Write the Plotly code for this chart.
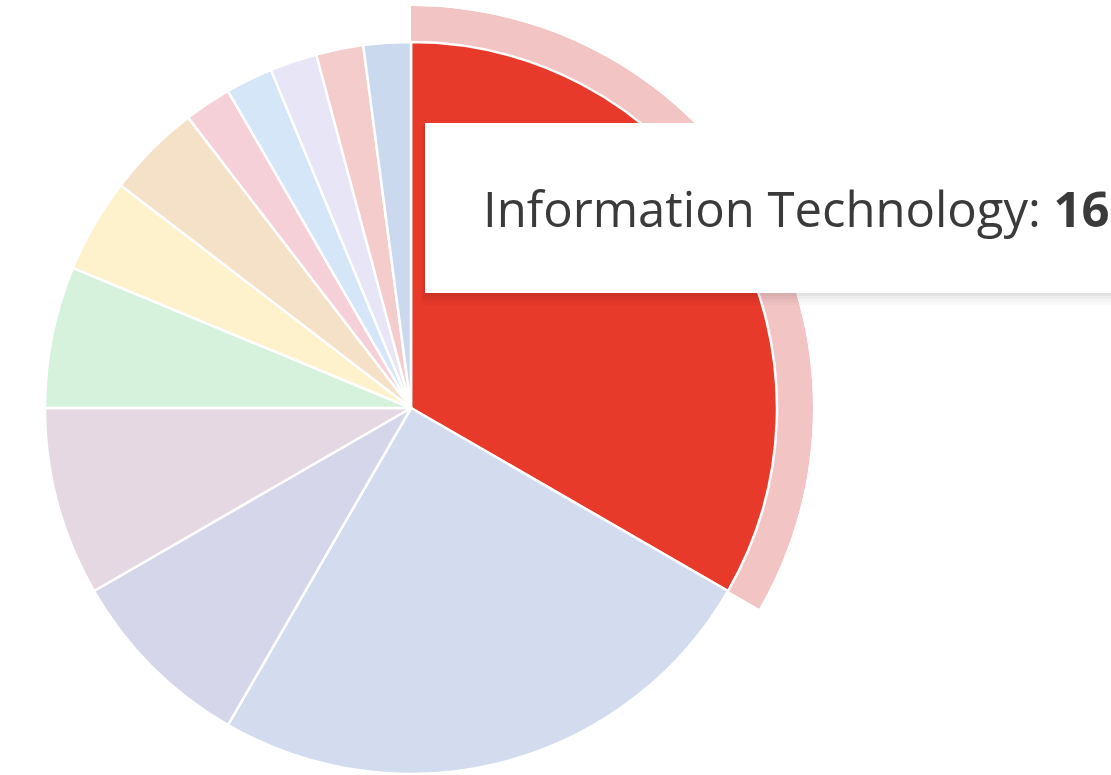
import math
import plotly.graph_objects as go

# Sector weights, drawn clockwise from 12 o'clock
sectors = [
    "Information Technology", "Financials", "Health Care", "Consumer Discretionary",
    "Industrials", "Communication Services", "Consumer Staples", "Energy",
    "Materials", "Utilities", "Real Estate", "Other",
]
counts = [16, 12, 4, 4, 3, 2, 2, 1, 1, 1, 1, 1]

# Hovered slice keeps its full colour; the rest are shown in their faded state
slice_colors = [
    "#e83a2a", "#d2dcee", "#d6d6ea", "#e6d8e2", "#d6f2dc", "#fdf2cc",
    "#f5e1c8", "#f6d0d8", "#d4e6f8", "#e8e6f6", "#f4cccc", "#cbd9ee",
]
halo_color = "#f2c4c4"
active = 0  # index of the highlighted slice

W, H = 1111, 775
cx, cy = 411, 408          # pie centre in pixels (from top-left)
r_pie = 366                # pie radius in pixels
r_halo = 402               # outer radius of the hover halo

fig = go.Figure()

# Hover halo: a ring segment on a polar subplot clipped to the active slice's sector
total = sum(counts)
start = sum(counts[:active]) / total * 360
span = counts[active] / total * 360
# polar sector is given counter-clockwise from 3 o'clock
sec_hi = 90 - start
sec_lo = 90 - start - span
fig.add_trace(go.Barpolar(
    r=[1.0], theta=[start + span / 2], width=[span],
    marker=dict(color=halo_color, line=dict(width=0)),
    hoverinfo="skip", showlegend=False,
))

# polar domain sized to the bounding box of the sector so its centre lands on the pie's
angles = [sec_lo, sec_hi] + [a for a in (0, 90, 180, 270, -90, -180) if sec_lo <= a <= sec_hi]
xs = [0] + [math.cos(math.radians(a)) for a in angles]
ys = [0] + [math.sin(math.radians(a)) for a in angles]
bx0, bx1, by0, by1 = min(xs), max(xs), min(ys), max(ys)
px_left = cx + bx0 * r_halo
px_right = cx + bx1 * r_halo
px_top = cy - by1 * r_halo
px_bottom = cy - by0 * r_halo

fig.update_layout(polar=dict(
    domain=dict(x=[px_left / W, px_right / W], y=[1 - px_bottom / H, 1 - px_top / H]),
    sector=[sec_lo, sec_hi],
    bgcolor="rgba(0,0,0,0)",
    hole=0,
    radialaxis=dict(range=[0, 1], visible=False, showgrid=False, showline=False,
                    showticklabels=False, ticks=""),
    angularaxis=dict(rotation=90, direction="clockwise", visible=False, showgrid=False,
                     showline=False, showticklabels=False, ticks=""),
))

# The pie itself
fig.add_trace(go.Pie(
    labels=sectors, values=counts, sort=False, direction="clockwise", rotation=0,
    marker=dict(colors=slice_colors, line=dict(color="white", width=2.5)),
    textinfo="none", hoverinfo="skip", showlegend=False,
    domain=dict(x=[(cx - r_pie) / W, (cx + r_pie) / W],
                y=[1 - (cy + r_pie) / H, 1 - (cy - r_pie) / H]),
))

# Tooltip box with a soft drop shadow
tip_l, tip_t, tip_b = 425, 123, 293
shapes = []
for i, a in enumerate([0.02, 0.025, 0.03, 0.035]):
    off = (4 - i) * 3
    shapes.append(dict(
        type="rect", xref="paper", yref="paper", layer="above",
        x0=(tip_l - off / 3) / W, x1=1.1,
        y0=1 - (tip_b + off) / H, y1=1 - (tip_t + off / 3) / H,
        fillcolor=f"rgba(0,0,0,{a})", line=dict(width=0),
    ))
shapes.append(dict(
    type="rect", xref="paper", yref="paper", layer="above",
    x0=tip_l / W, x1=1.1, y0=1 - tip_b / H, y1=1 - tip_t / H,
    fillcolor="white", line=dict(width=0),
))

fig.update_layout(
    width=W, height=H,
    margin=dict(l=0, r=0, t=0, b=0),
    paper_bgcolor="white", plot_bgcolor="white",
    shapes=shapes,
    annotations=[dict(
        xref="paper", yref="paper", x=481 / W, y=1 - 208 / H,
        xanchor="left", yanchor="middle", showarrow=False,
        text=f"{sectors[active]}: <b>{counts[active]}</b>",
        font=dict(family="Open Sans, sans-serif", size=49, color="#3a3a3a"),
    )],
    hovermode=False,
)

fig.write_html("out.html")
